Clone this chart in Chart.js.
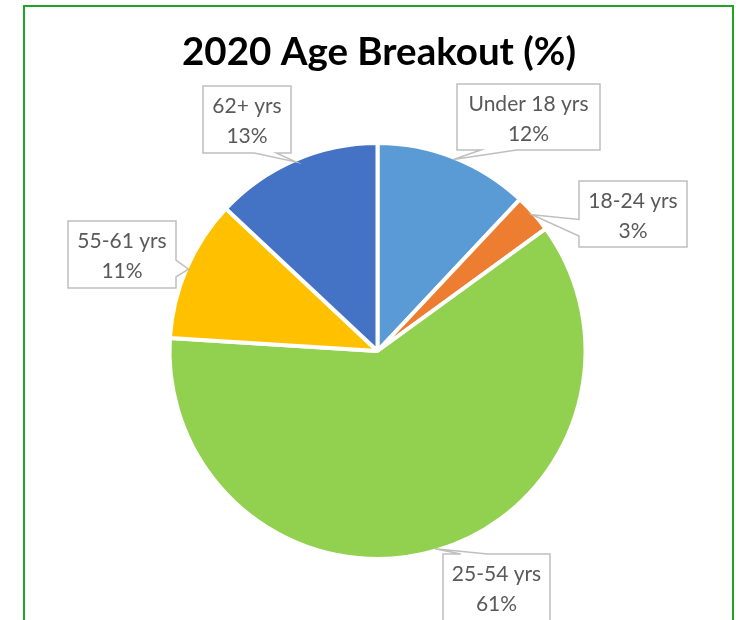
<!DOCTYPE html>
<html>
<head>
<meta charset="utf-8">
<script src="https://cdn.jsdelivr.net/npm/chart.js@4.4.1/dist/chart.umd.min.js"></script>
<style>
  html, body { margin: 0; padding: 0; background: #ffffff; }
  #wrap { width: 740px; height: 620px; position: relative; }
</style>
</head>
<body>
<div id="wrap"><canvas id="c" width="740" height="620"></canvas></div>
<script>
// ---- data ----
const chartTitle = '2020 Age Breakout (%)';
const categories = ['Under 18 yrs', '18-24 yrs', '25-54 yrs', '55-61 yrs', '62+ yrs'];
const percentages = [12, 3, 61, 11, 13];
const sliceColors = ['#5B9BD5', '#ED7D31', '#92D050', '#FFC000', '#4472C4'];

// ---- callout box layout (x, y, w, h) for each category, in order ----
const calloutBoxes = [
  [457, 84, 143, 66],
  [579, 181, 108, 66],
  [443, 554, 107, 67],
  [68, 221, 108, 67],
  [203, 86, 88, 67]
];

const framePlugin = {
  id: 'frame',
  beforeDraw(chart) {
    const ctx = chart.ctx;
    ctx.save();
    ctx.fillStyle = '#ffffff';
    ctx.fillRect(0, 0, chart.width, chart.height);
    ctx.strokeStyle = '#22A322';
    ctx.lineWidth = 2;
    ctx.strokeRect(24, 6, 709, 700);
    // title
    ctx.fillStyle = '#000000';
    ctx.font = 'bold 38.5px Lato';
    ctx.textAlign = 'center';
    ctx.textBaseline = 'alphabetic';
    ctx.fillText(chartTitle, 379, 65);
    ctx.restore();
  }
};

const calloutPlugin = {
  id: 'callouts',
  afterDatasetsDraw(chart) {
    const ctx = chart.ctx;
    const meta = chart.getDatasetMeta(0);
    ctx.save();
    meta.data.forEach((arc, i) => {
      const p = arc.getProps(['x', 'y', 'startAngle', 'endAngle', 'outerRadius'], true);
      const mid = (p.startAngle + p.endAngle) / 2;
      const r = p.outerRadius - 2;
      const tx = p.x + Math.cos(mid) * r;
      const ty = p.y + Math.sin(mid) * r;
      const [bx, by, bw, bh] = calloutBoxes[i];
      const hc = bx + bw / 2, vc = by + bh / 2;
      const dx = tx - hc, dy = ty - vc;
      const dq = dx * bh / bw;
      const dz = Math.abs(dy) - Math.abs(dq);
      const x1 = bx + bw * (dx > 0 ? 7 : 2) / 12, x2 = bx + bw * (dx > 0 ? 10 : 5) / 12;
      const y1 = by + bh * (dy > 0 ? 7 : 2) / 12, y2 = by + bh * (dy > 0 ? 10 : 5) / 12;
      const pts = [[bx, by]];
      if (dz > 0 && dy < 0) { pts.push([x1, by], [tx, ty], [x2, by]); }
      pts.push([bx + bw, by]);
      if (dz <= 0 && dx > 0) { pts.push([bx + bw, y1], [tx, ty], [bx + bw, y2]); }
      pts.push([bx + bw, by + bh]);
      if (dz > 0 && dy >= 0) { pts.push([x2, by + bh], [tx, ty], [x1, by + bh]); }
      pts.push([bx, by + bh]);
      if (dz <= 0 && dx <= 0) { pts.push([bx, y2], [tx, ty], [bx, y1]); }
      ctx.beginPath();
      pts.forEach((pt, k) => k === 0 ? ctx.moveTo(pt[0], pt[1]) : ctx.lineTo(pt[0], pt[1]));
      ctx.closePath();
      ctx.fillStyle = '#ffffff';
      ctx.fill();
      ctx.strokeStyle = '#BFBFBF';
      ctx.lineWidth = 1.5;
      ctx.stroke();
      ctx.fillStyle = '#595959';
      ctx.font = '21px Lato';
      ctx.textAlign = 'center';
      ctx.textBaseline = 'middle';
      ctx.fillText(chart.data.labels[i], hc, by + 20);
      ctx.fillText(chart.data.datasets[0].data[i] + '%', hc, by + 50);
    });
    ctx.restore();
  }
};

new Chart(document.getElementById('c'), {
  type: 'pie',
  data: {
    labels: categories,
    datasets: [{
      data: percentages,
      backgroundColor: sliceColors,
      borderColor: '#ffffff',
      borderWidth: 4
    }]
  },
  options: {
    responsive: false,
    animation: false,
    layout: { padding: { top: 141, bottom: 59, left: 15, right: 0 } },
    plugins: {
      legend: { display: false },
      tooltip: { enabled: false },
      title: { display: false }
    }
  },
  plugins: [framePlugin, calloutPlugin]
});
</script>
</body>
</html>
